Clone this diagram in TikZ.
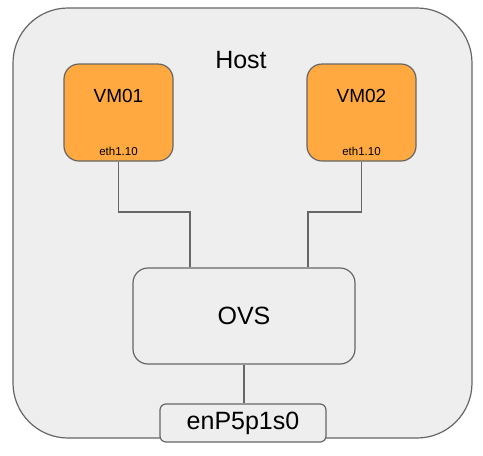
\documentclass[tikz,border=0pt]{standalone}
\usepackage{fontspec}
\setmainfont{Liberation Sans}
\definecolor{hostfill}{HTML}{EEEEEE}
\definecolor{edge}{HTML}{666666}
\definecolor{vmfill}{HTML}{FFA940}
\tikzset{
  box/.style={draw=edge, line width=1.2pt, rectangle, inner sep=0pt},
  wire/.style={draw=edge, line width=1.2pt},
  big/.style={font=\fontsize{25}{30}\selectfont, text=black},
  mid/.style={font=\fontsize{19}{23}\selectfont, text=black},
  small/.style={font=\fontsize{11.5}{14}\selectfont, text=black},
}
\begin{document}
\begin{tikzpicture}[x=1pt,y=-1pt]
\useasboundingbox (0,0) rectangle (483,456);
\node[box, fill=hostfill, rounded corners=55pt, minimum width=459pt, minimum height=430pt] (host) at (242.5,223) {};
\node[big] (hostlbl) at (241,60) {Host};
\node[box, fill=vmfill, rounded corners=15pt, minimum width=109pt, minimum height=97pt] (vm1) at (118.5,112.5) {};
\node[mid] (vm1lbl) at (118.5,96) {VM01};
\node[small] (vm1eth) at (118.5,151) {eth1.10};
\node[box, fill=vmfill, rounded corners=15pt, minimum width=109pt, minimum height=97pt] (vm2) at (361.5,112.5) {};
\node[mid] (vm2lbl) at (361.5,96) {VM02};
\node[small] (vm2eth) at (361.5,151) {eth1.10};
\node[box, fill=hostfill, rounded corners=15pt, minimum width=222pt, minimum height=96pt, big] (ovs) at (244,316) {OVS};
\node[box, fill=hostfill, rounded corners=6pt, minimum width=166pt, minimum height=38pt, big] (enp) at (243,423) {enP5p1s0};
\coordinate (j1) at (190,212);
\coordinate (j2) at (308,212);
\draw[wire] (vm1.south) |- (j1) -- (j1 |- ovs.north);
\draw[wire] (vm2.south) |- (j2) -- (j2 |- ovs.north);
\draw[wire] (ovs.south) -- (ovs.south |- enp.north);
\end{tikzpicture}
\end{document}
